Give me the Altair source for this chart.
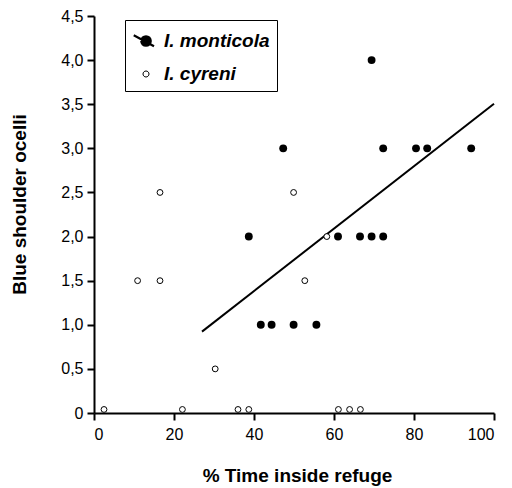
import altair as alt
import pandas as pd

# --- data ---
species_names = ["I. monticola", "I. cyreni"]

mont_x = [69.4, 47.3, 72.3, 80.5, 83.3, 94.3, 38.7, 61.0, 66.5, 69.4, 72.3, 41.7, 44.4, 49.9, 55.6]
mont_y = [4.0, 3.0, 3.0, 3.0, 3.0, 3.0, 2.0, 2.0, 2.0, 2.0, 2.0, 1.0, 1.0, 1.0, 1.0]

cyr_x = [2.5, 22.1, 36.0, 38.7, 61.1, 63.9, 66.6, 30.3, 10.9, 16.5, 16.5, 49.9, 52.7, 58.2]
cyr_y = [0.04, 0.04, 0.04, 0.04, 0.04, 0.04, 0.04, 0.5, 1.5, 1.5, 2.5, 2.5, 1.5, 2.0]

x_ticks = [0, 20, 40, 60, 80, 100]
y_ticks = [0, 0.5, 1.0, 1.5, 2.0, 2.5, 3.0, 3.5, 4.0, 4.5]
fit_extent = [27, 100]

mont = pd.DataFrame({"x": mont_x, "y": mont_y, "species": species_names[0]})
cyr = pd.DataFrame({"x": cyr_x, "y": cyr_y, "species": species_names[1]})
df = pd.concat([mont, cyr], ignore_index=True)

FONT = "Liberation Sans"

xs = alt.Scale(domain=[0, 100], nice=False, zero=False)
ys = alt.Scale(domain=[0, 4.5], nice=False, zero=False)

x_enc = alt.X(
    "x:Q", scale=xs,
    axis=alt.Axis(values=x_ticks, title="% Time inside refuge",
                  titleX=203, titleY=62, titleBaseline="middle", titleAlign="center",
                  labelPadding=6),
)
y_enc = alt.Y(
    "y:Q", scale=ys,
    axis=alt.Axis(values=y_ticks, title="Blue shoulder ocelli",
                  labelExpr="datum.value == 0 ? '0' : replace(format(datum.value, '.1f'), '.', ',')",
                  titleX=-75, titleY=188, titleAngle=270, titleBaseline="middle",
                  titleAlign="center", labelPadding=4),
)

base = alt.Chart(df)

mont_pts = base.transform_filter(alt.datum.species == species_names[0]).mark_circle(
    color="black", size=62, opacity=1
).encode(x=x_enc, y=y_enc)

cyr_pts = base.transform_filter(alt.datum.species == species_names[1]).mark_circle(
    fill="white", stroke="black", strokeWidth=1, size=34, opacity=1
).encode(x=x_enc, y=y_enc)

reg = base.transform_filter(alt.datum.species == species_names[0]).transform_regression(
    "x", "y", extent=fit_extent
).mark_line(color="black", strokeWidth=2).encode(x=x_enc, y=y_enc)

path_m = "M-0.98,-0.46L0.64,0.42M0.38,0A0.38,0.38,0,1,1,-0.38,0A0.38,0.38,0,1,1,0.38,0Z"
path_c = "M0.24,0A0.24,0.24,0,1,1,-0.24,0A0.24,0.24,0,1,1,0.24,0Z"

leg = alt.Legend(
    title=None, orient="none", legendX=31, legendY=4,
    fillColor="white", strokeColor="black", padding=7,
    symbolSize=625,
    labelFont=FONT, labelFontSize=19, labelFontWeight="bold", labelFontStyle="italic",
    labelColor="black", labelOffset=4, rowPadding=10,
)

legend_layer = base.transform_filter("datum.x < -1000").mark_point(
    filled=True, opacity=1
).encode(
    x=x_enc, y=y_enc,
    fill=alt.Fill("species:N", scale=alt.Scale(domain=species_names, range=["black", "white"]), legend=leg),
    stroke=alt.Stroke("species:N", scale=alt.Scale(domain=species_names, range=["black", "black"]), legend=leg),
    shape=alt.Shape("species:N", scale=alt.Scale(domain=species_names, range=[path_m, path_c]), legend=leg),
    strokeWidth=alt.StrokeWidth("species:N", scale=alt.Scale(domain=species_names, range=[2.2, 1]), legend=leg),
)

chart = alt.layer(reg, cyr_pts, mont_pts, legend_layer).properties(
    width=400, height=397,
    autosize=alt.AutoSizeParams(type="none"),
    padding={"left": 86, "top": 8, "right": 10, "bottom": 76},
).configure_view(stroke=None).configure_axis(
    grid=False, domainColor="black", domainWidth=2, tickColor="black", tickWidth=2,
    tickSize=7, labelFont=FONT, labelFontSize=16, labelColor="black",
    titleFont=FONT, titleFontSize=19, titleFontWeight="bold", titleColor="black",
)

chart.save("out.html", embed_options={"renderer": "svg", "actions": False})
